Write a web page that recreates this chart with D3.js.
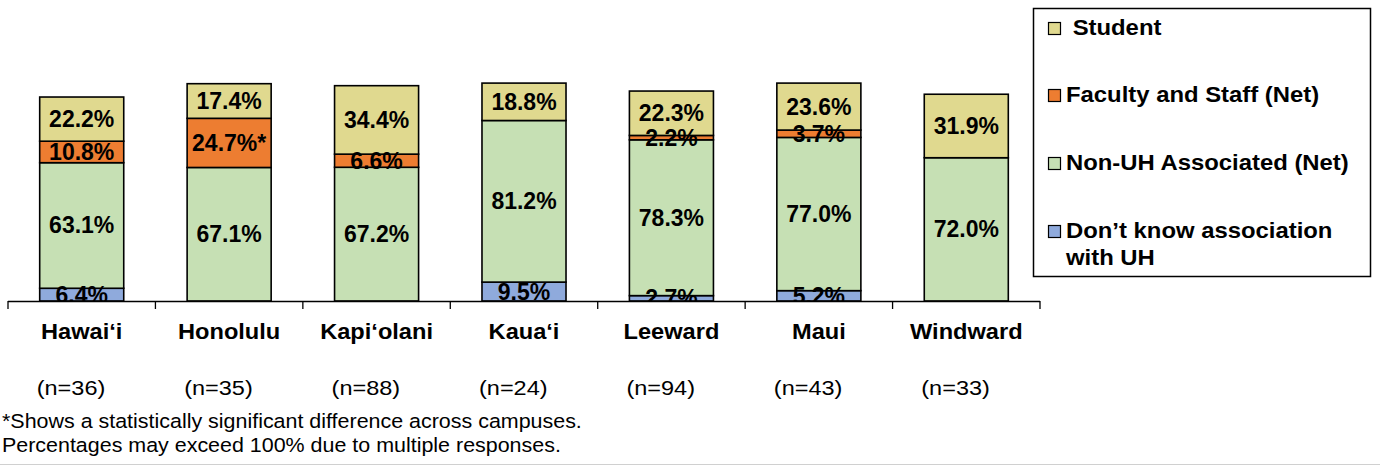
<!DOCTYPE html>
<html>
<head>
<meta charset="utf-8">
<script src="https://cdn.jsdelivr.net/npm/d3@7"></script>
<style>
  body { margin: 0; background: #fff; }
  text { font-family: "Liberation Sans", Arial, sans-serif; fill: #000; }
</style>
</head>
<body>
<svg width="1380" height="468"></svg>
<script>
// campuses and sample sizes
var campuses = ["Hawai‘i", "Honolulu", "Kapi‘olani", "Kaua‘i", "Leeward", "Maui", "Windward"];
var sampleSizes = ["(n=36)", "(n=35)", "(n=88)", "(n=24)", "(n=94)", "(n=43)", "(n=33)"];

// series values (percent), bottom to top of each bar
var dontKnow = [6.4, 0, 0, 9.5, 2.7, 5.2, 0];
var nonUH    = [63.1, 67.1, 67.2, 81.2, 78.3, 77.0, 72.0];
var faculty  = [10.8, 24.7, 6.6, 0, 2.2, 3.7, 0];
var student  = [22.2, 17.4, 34.4, 18.8, 22.3, 23.6, 31.9];
// significance marks on faculty labels
var facultySig = ["", "*", "", "", "", "", ""];

var keys = ["dontKnow", "nonUH", "faculty", "student"];
var colors = { dontKnow: "#8faadc", nonUH: "#c6e0b4", faculty: "#ed7d31", student: "#e0d98f" };

var legendItems = [
    { key: "student", lines: [" Student"] },
    { key: "faculty", lines: ["Faculty and Staff (Net)"] },
    { key: "nonUH", lines: ["Non-UH Associated (Net)"] },
    { key: "dontKnow", lines: ["Don’t know association", "with UH"] }
];

var footnotes = [
    "*Shows a statistically significant difference across campuses.",
    "Percentages may exceed 100% due to multiple responses."
];

var svg = d3.select("svg");

// text that is a little wider than the font normally is
function wideText(parent, tx, ty, sx) {
    return parent.append("text")
        .attr("x", 0).attr("y", 0)
        .attr("transform", "translate(" + tx + "," + ty + ") scale(" + sx + ",1)");
}

var rows = campuses.map(function(c, i) {
    return { campus: c, i: i, dontKnow: dontKnow[i], nonUH: nonUH[i], faculty: faculty[i], student: student[i] };
});

var stacked = d3.stack().keys(keys)(rows);

var plotLeft = 8, plotRight = 1040, baseY = 301;

var x = d3.scaleBand()
    .domain(campuses)
    .range([plotLeft, plotRight])
    .paddingInner(0.43)
    .paddingOuter(0.215);

var y = d3.scaleLinear()
    .domain([0, 100])
    .range([baseY, baseY - 199]);

// bars
var layer = svg.append("g").attr("class", "bars")
    .selectAll("g")
    .data(stacked)
    .enter().append("g")
        .attr("fill", function(d) { return colors[d.key]; });

layer.selectAll("rect")
    .data(function(d) { return d.filter(function(s) { return s[1] - s[0] > 0; }); })
    .enter().append("rect")
        .attr("x", function(d) { return x(d.data.campus); })
        .attr("width", x.bandwidth())
        .attr("y", function(d) { return y(d[1]); })
        .attr("height", function(d) { return y(d[0]) - y(d[1]); })
        .attr("stroke", "#000")
        .attr("stroke-width", 1.6);

// value labels, clipped at the axis
svg.append("clipPath").attr("id", "plotclip")
    .append("rect")
        .attr("x", 0).attr("y", 0)
        .attr("width", plotRight + 5).attr("height", baseY);

var labels = svg.append("g").attr("clip-path", "url(#plotclip)");

stacked.forEach(function(s) {
    s.forEach(function(d) {
        var v = d[1] - d[0];
        if (v <= 0) return;
        var txt = v.toFixed(1) + "%";
        if (s.key === "faculty") txt += facultySig[d.data.i];
        labels.append("text")
            .attr("x", x(d.data.campus) + x.bandwidth() / 2)
            .attr("y", (y(d[0]) + y(d[1])) / 2 + 8)
            .attr("text-anchor", "middle")
            .attr("font-size", 23)
            .attr("font-weight", "bold")
            .text(txt);
    });
});

// x axis line with ticks between categories
var axis = svg.append("g");
axis.append("line")
    .attr("x1", plotLeft).attr("x2", plotRight)
    .attr("y1", baseY + 0.5).attr("y2", baseY + 0.5)
    .attr("stroke", "#000").attr("stroke-width", 1.3);

var tickXs = campuses.map(function(c) { return x(c) - x.step() * x.paddingInner() / 2; });
tickXs.push(plotRight);
tickXs[0] = plotLeft;
axis.selectAll(".tick")
    .data(tickXs)
    .enter().append("line")
        .attr("x1", function(d) { return d; }).attr("x2", function(d) { return d; })
        .attr("y1", baseY).attr("y2", baseY + 8)
        .attr("stroke", "#000").attr("stroke-width", 1.3);

campuses.forEach(function(c) {
    wideText(axis, x(c) + x.bandwidth() / 2, 339, 1.05)
        .attr("text-anchor", "middle")
        .attr("font-size", 22.5)
        .attr("font-weight", "bold")
        .text(c);
});

sampleSizes.forEach(function(n, i) {
    wideText(axis, x(campuses[i]) - 3, 395, 1.12)
        .attr("font-size", 21)
        .text(n);
});

// legend
var legend = svg.append("g");
legend.append("rect")
    .attr("x", 1033.5).attr("y", 8.5)
    .attr("width", 337).attr("height", 268)
    .attr("fill", "#fff")
    .attr("stroke", "#000").attr("stroke-width", 1.5);

var legendBase = [35, 102, 170, 238];
legendItems.forEach(function(item, i) {
    var by = legendBase[i];
    legend.append("rect")
        .attr("x", 1048.5).attr("y", by - 12.5)
        .attr("width", 12).attr("height", 12)
        .attr("fill", colors[item.key])
        .attr("stroke", "#000").attr("stroke-width", 1.2);
    item.lines.forEach(function(line, j) {
        wideText(legend, 1066, by + j * 27, 1.11)
            .attr("font-size", 21.5)
            .attr("font-weight", "bold")
            .attr("xml:space", "preserve")
            .style("white-space", "pre")
            .text(line);
    });
});

// footnotes
footnotes.forEach(function(f, i) {
    wideText(svg, 2, 428 + i * 24, 1.1)
        .attr("font-size", 19.5)
        .text(f);
});

// bottom rule
svg.append("line")
    .attr("x1", 0).attr("x2", 1380)
    .attr("y1", 464.5).attr("y2", 464.5)
    .attr("stroke", "#d0d0d0").attr("stroke-width", 1);
</script>
</body>
</html>
